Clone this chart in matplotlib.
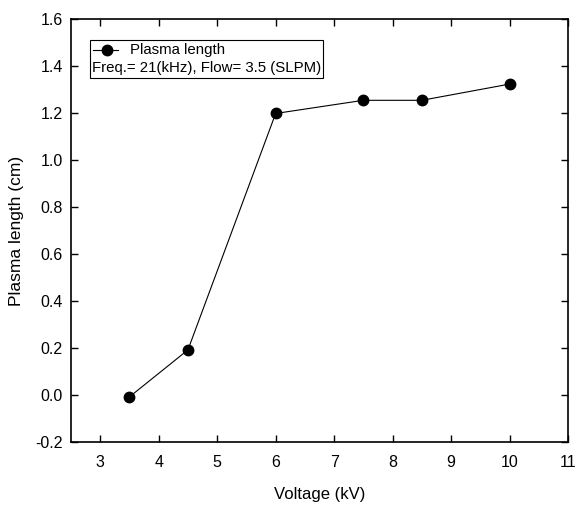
import matplotlib
matplotlib.use("Agg")
import matplotlib.pyplot as plt
from matplotlib.lines import Line2D
from matplotlib.patches import Rectangle

voltage = [3.5, 4.5, 6.0, 7.5, 8.5, 10.0]
length = [-0.008, 0.192, 1.198, 1.254, 1.254, 1.323]
xticks = [3, 4, 5, 6, 7, 8, 9, 10, 11]
yticks = [-0.2, 0.0, 0.2, 0.4, 0.6, 0.8, 1.0, 1.2, 1.4, 1.6]

plt.rcParams['font.family'] = ['Liberation Sans', 'DejaVu Sans']

W, H = 576, 508
L, R, T, B = 71, 568, 19, 442
fig = plt.figure(figsize=(W/100, H/100), dpi=100)
ax = fig.add_axes([L/W, (H-B)/H, (R-L)/W, (B-T)/H])
ax.plot(voltage, length, color='black', lw=0.8, marker='o', ms=7.5)
ax.set_xlim(2.5, 11)
ax.set_ylim(-0.2, 1.6)
ax.set_xticks(xticks)
ax.set_xticklabels([str(t) for t in xticks])
ax.set_yticks(yticks)
ax.set_yticklabels([f"{t:.1f}" for t in yticks])
ax.tick_params(direction='in', top=True, right=True, length=5, width=1, labelsize=11.5)
ax.tick_params(axis='x', pad=9.5)
ax.tick_params(axis='y', pad=6)
for s in ax.spines.values():
    s.set_linewidth(1.2)
ax.set_xlabel("Voltage (kV)", fontsize=12, labelpad=12)
ax.set_ylabel("Plasma length (cm)", fontsize=12.5, labelpad=8)

# legend box
def axx(px):
    return (px - L) / (R - L)

def axy(py):
    return (B - py) / (B - T)

ax.add_patch(Rectangle((axx(90), axy(78)), axx(323) - axx(90), axy(40) - axy(78),
                       transform=ax.transAxes, fill=False, ec='black', lw=0.8, zorder=5))
yl = axy(50)
ax.add_line(Line2D([axx(93), axx(118)], [yl, yl], transform=ax.transAxes,
                   color='black', lw=0.8, zorder=6))
ax.add_line(Line2D([axx(106.5)], [yl], transform=ax.transAxes, color='black',
                   marker='o', ms=7.5, zorder=6))
ax.text(axx(130), yl, "Plasma length", transform=ax.transAxes, va='center',
        ha='left', fontsize=10.8, zorder=6)
ax.text(axx(91.5), axy(68), "Freq.= 21(kHz), Flow= 3.5 (SLPM)", transform=ax.transAxes,
        va='center', ha='left', fontsize=10.8, zorder=6)

fig.savefig("out.png", dpi=100)
